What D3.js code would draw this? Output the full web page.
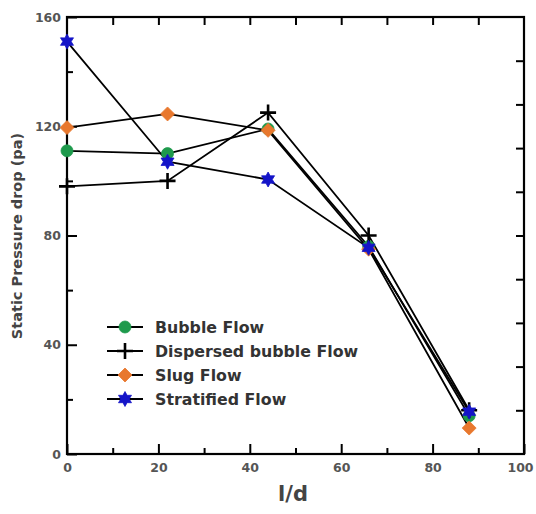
<!DOCTYPE html>
<html><head><meta charset="utf-8">
<script src="https://cdn.jsdelivr.net/npm/d3@7"></script>
<style>body{margin:0;background:#fff}svg{display:block;font-family:"DejaVu Sans",Arial,sans-serif}</style>
</head><body>
<svg id="c" width="536" height="514"></svg>
<script>
const xValues = [0, 22, 44, 66, 88];
const seriesNames = ["Bubble Flow", "Dispersed bubble Flow", "Slug Flow", "Stratified Flow"];
const bubble = [111, 110, 119, 76, 14];
const dispersed = [98, 100, 125, 80, 16];
const slug = [119.5, 124.5, 118.5, 75, 9.5];
const stratified = [151, 107, 100.5, 75.5, 15.5];
const xTicks = [0, 20, 40, 60, 80, 100];
const yTicks = [0, 40, 80, 120, 160];

const svg = d3.select("#c");
const L = 67, R = 524, T = 17, B = 454;
const x = d3.scaleLinear().domain([0, 100]).range([L, R]);
const y = d3.scaleLinear().domain([0, 160]).range([B, T]);

function diamondPath(r) { return `M0,${-r}L${r},0L0,${r}L${-r},0Z`; }
function starPath(ro, ri, n) {
  const pts = [];
  for (let i = 0; i < 2 * n; i++) {
    const a = Math.PI * i / n - Math.PI / 2;
    const r = i % 2 ? ri : ro;
    pts.push([r * Math.cos(a), r * Math.sin(a)]);
  }
  return "M" + pts.map(p => p[0].toFixed(2) + "," + p[1].toFixed(2)).join("L") + "Z";
}

const series = [
  {name: seriesNames[0], vals: bubble, path: d3.symbol().type(d3.symbolCircle).size(113)(), fill: "#1e9a4c"},
  {name: seriesNames[1], vals: dispersed, plus: true},
  {name: seriesNames[2], vals: slug, path: diamondPath(7), fill: "#e8782e"},
  {name: seriesNames[3], vals: stratified, path: starPath(7.5, 4.2, 6), fill: "#1414c8"}
];

const g = svg.append("g");
function ticks(axisGen, tr, vals, len) {
  const a = g.append("g").attr("transform", tr).call(axisGen.tickValues(vals).tickSize(len).tickFormat(""));
  a.select(".domain").remove();
  a.selectAll("line").attr("stroke", "#000").attr("stroke-width", 2);
}
ticks(d3.axisTop(x), `translate(0,${B})`, d3.range(0, 101, 20), 10);
ticks(d3.axisTop(x), `translate(0,${B})`, d3.range(10, 100, 20), 6);
ticks(d3.axisBottom(x), `translate(0,${T})`, d3.range(10, 100, 10), 8);
ticks(d3.axisRight(y), `translate(${L},0)`, d3.range(0, 161, 40), 10);
ticks(d3.axisRight(y), `translate(${L},0)`, d3.range(20, 160, 40), 6);
ticks(d3.axisLeft(y), `translate(${R},0)`, d3.range(16, 160, 16), 8);

g.append("rect").attr("x", L).attr("y", T).attr("width", R - L).attr("height", B - T)
  .attr("fill", "none").attr("stroke", "#000").attr("stroke-width", 2.2);

const xa = svg.append("g").attr("transform", `translate(0,${B})`)
  .call(d3.axisBottom(x).tickValues(xTicks).tickSize(0).tickPadding(9).tickFormat(d3.format("d")));
xa.select(".domain").remove();
xa.selectAll("text").attr("font-size", 12.5).attr("font-weight", "bold").attr("fill", "#555").attr("font-family", "DejaVu Sans, sans-serif")
  .attr("dx", d => d === 100 ? -4 : 0);
const ya = svg.append("g").attr("transform", `translate(${L},0)`)
  .call(d3.axisLeft(y).tickValues(yTicks).tickSize(0).tickPadding(6).tickFormat(d3.format("d")));
ya.select(".domain").remove();
ya.selectAll("text").attr("font-size", 12.5).attr("font-weight", "bold").attr("fill", "#555").attr("font-family", "DejaVu Sans, sans-serif");

svg.append("text").attr("x", 293).attr("y", 501).attr("text-anchor", "middle")
  .attr("font-size", 21).attr("font-weight", "bold").attr("fill", "#444").text("l/d");
svg.append("text").attr("transform", "translate(22,236) rotate(-90)").attr("text-anchor", "middle")
  .attr("font-size", 14.5).attr("font-weight", "bold").attr("fill", "#444").text("Static Pressure drop (pa)");

const line = d3.line().x((d, i) => x(xValues[i])).y(d => y(d));
series.forEach(s => {
  svg.append("path").datum(s.vals).attr("d", line)
    .attr("fill", "none").attr("stroke", "#000").attr("stroke-width", 1.8);
});

function marker(sel, s) {
  if (s.plus) {
    sel.append("path").attr("d", "M-8,0H8M0,-8V8").attr("stroke", "#000").attr("stroke-width", 2.6).attr("fill", "none");
  } else {
    sel.append("path").attr("d", s.path).attr("fill", s.fill).attr("stroke", s.fill).attr("stroke-width", 0.8);
  }
}
[0, 2, 1, 3].forEach(k => {
  const s = series[k];
  s.vals.forEach((v, i) => {
    marker(svg.append("g").attr("transform", `translate(${x(xValues[i])},${y(v)})`), s);
  });
});

const legY = [327, 351, 375, 399];
series.forEach((s, i) => {
  const lg = svg.append("g").attr("transform", `translate(0,${legY[i]})`);
  lg.append("line").attr("x1", 107).attr("x2", 143).attr("y1", 0).attr("y2", 0).attr("stroke", "#000").attr("stroke-width", 1.8);
  marker(lg.append("g").attr("transform", "translate(125,0)"), s);
  lg.append("text").attr("x", 155).attr("y", 5.5).attr("font-size", 15.8).attr("font-weight", "bold")
    .attr("fill", "#333").text(s.name);
});
</script>
</body></html>
